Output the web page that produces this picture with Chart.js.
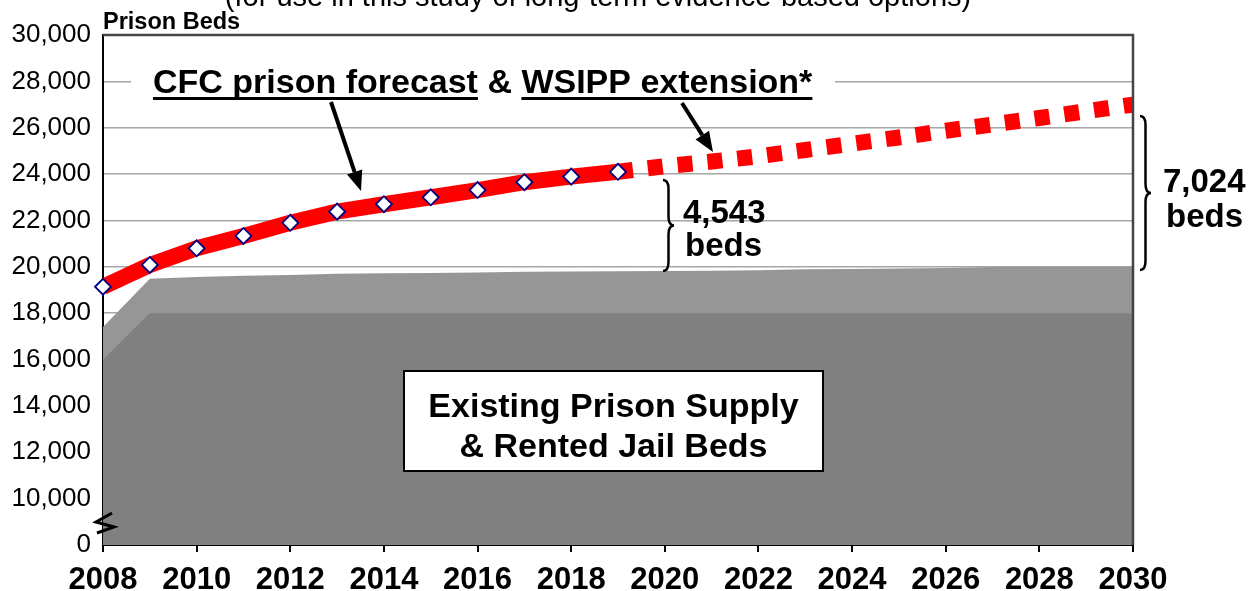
<!DOCTYPE html>
<html>
<head>
<meta charset="utf-8">
<script src="https://cdn.jsdelivr.net/npm/chart.js@4.4.0/dist/chart.umd.min.js"></script>
<style>
  html, body { margin: 0; padding: 0; background: #fff; }
  #wrap { width: 1259px; height: 591px; }
</style>
</head>
<body>
<div id="wrap"><canvas id="bedsChart" width="1259" height="591"></canvas></div>
<script>
// years on the x axis
const supplyYears = [2008, 2009, 2010, 2011, 2012, 2013, 2014, 2015, 2016, 2017, 2018, 2019,
  2020, 2021, 2022, 2023, 2024, 2025, 2026, 2027, 2028, 2029, 2030];
const forecastYears = [2008, 2009, 2010, 2011, 2012, 2013, 2014, 2015, 2016, 2017, 2018, 2019];
const extensionYears = [2019, 2020, 2021, 2022, 2023, 2024, 2025, 2026, 2027, 2028, 2029, 2030];

// CFC prison forecast (solid) and WSIPP extension (dotted)
const forecastBeds = [19140, 20080, 20800, 21330, 21900, 22380, 22700, 23000, 23310, 23650, 23890, 24100];
const extensionBeds = [24100, 24340, 24540, 24770, 25040, 25310, 25580, 25870, 26140, 26420, 26710, 27000];

// supply: prison beds (dark) and prison + rented jail beds (light)
const prisonSupply = [16000, 18000, 18000, 18000, 18000, 18000, 18000, 18000, 18000, 18000, 18000, 18000,
  18000, 18000, 18000, 18000, 18000, 18000, 18000, 18000, 18000, 18000, 18000];
const totalSupply = [17400, 19480, 19560, 19620, 19650, 19700, 19720, 19730, 19750, 19790, 19800, 19810,
  19820, 19830, 19850, 19890, 19910, 19930, 19950, 19990, 20000, 20000, 20000];

// broken axis: the bottom tick stands for 0
const yMin = 8000;
const yMax = 30000;
const yStep = 2000;
const xMin = 2008;
const xMax = 2030;
const xStep = 2;

const FONT = "'Liberation Sans', Arial, Helvetica, sans-serif";

function pts(xs, ys) {
  return xs.map((x, i) => ({ x: x, y: ys[i] }));
}

function drawArrow(ctx, x1, y1, x2, y2) {
  const ang = Math.atan2(y2 - y1, x2 - x1);
  const head = 20;
  const half = 8;
  const bx = x2 - head * Math.cos(ang);
  const by = y2 - head * Math.sin(ang);
  ctx.save();
  ctx.strokeStyle = '#000';
  ctx.fillStyle = '#000';
  ctx.lineWidth = 4;
  ctx.beginPath();
  ctx.moveTo(x1, y1);
  ctx.lineTo(bx, by);
  ctx.stroke();
  ctx.beginPath();
  ctx.moveTo(x2, y2);
  ctx.lineTo(bx + half * Math.sin(ang), by - half * Math.cos(ang));
  ctx.lineTo(bx - half * Math.sin(ang), by + half * Math.cos(ang));
  ctx.closePath();
  ctx.fill();
  ctx.restore();
}

function drawBrace(ctx, x, y1, y2, w) {
  const ym = (y1 + y2) / 2;
  const q = 9;
  const xm = x + w / 2;
  ctx.save();
  ctx.strokeStyle = '#000';
  ctx.lineWidth = 2.5;
  ctx.beginPath();
  ctx.moveTo(x, y1);
  ctx.quadraticCurveTo(xm, y1, xm, y1 + q);
  ctx.lineTo(xm, ym - q);
  ctx.quadraticCurveTo(xm, ym, x + w, ym);
  ctx.quadraticCurveTo(xm, ym, xm, ym + q);
  ctx.lineTo(xm, y2 - q);
  ctx.quadraticCurveTo(xm, y2, x, y2);
  ctx.stroke();
  ctx.restore();
}

const annotations = {
  id: 'annotations',
  afterDraw(chart) {
    const ctx = chart.ctx;
    const a = chart.chartArea;

    // frame top / right
    ctx.save();
    ctx.strokeStyle = '#444';
    ctx.lineWidth = 2.5;
    ctx.beginPath();
    ctx.moveTo(a.left, a.top);
    ctx.lineTo(a.right, a.top);
    ctx.lineTo(a.right, a.bottom);
    ctx.stroke();
    ctx.restore();

    // cut-off subtitle at very top
    ctx.save();
    ctx.fillStyle = '#000';
    ctx.font = '29px ' + FONT;
    ctx.textAlign = 'center';
    ctx.textBaseline = 'alphabetic';
    ctx.fillText('(for use in this study of long-term evidence-based options)', 598, 6);
    ctx.restore();

    // y axis title
    ctx.save();
    ctx.fillStyle = '#000';
    ctx.font = 'bold 23.5px ' + FONT;
    ctx.textAlign = 'left';
    ctx.fillText('Prison Beds', 103, 29);
    ctx.restore();

    // headline with white backing
    ctx.save();
    ctx.fillStyle = '#fff';
    ctx.fillRect(131, 60, 704, 44);
    ctx.fillStyle = '#000';
    ctx.font = 'bold 34px ' + FONT;
    ctx.textAlign = 'left';
    const p1 = 'CFC prison forecast';
    const p2 = ' & ';
    const p3 = 'WSIPP extension*';
    const tx = 153;
    const ty = 93;
    const w1 = ctx.measureText(p1).width;
    const w2 = ctx.measureText(p2).width;
    const w3 = ctx.measureText(p3).width;
    ctx.fillText(p1, tx, ty);
    ctx.fillRect(tx, ty + 4, w1, 3);
    ctx.fillText(p2, tx + w1, ty);
    ctx.fillText(p3, tx + w1 + w2, ty);
    ctx.fillRect(tx + w1 + w2, ty + 4, w3, 3);
    ctx.restore();

    drawArrow(ctx, 331, 102, 361, 191);
    drawArrow(ctx, 682, 103, 713, 152);

    // braces and bed gaps
    drawBrace(ctx, 663, 180, 271, 11);
    drawBrace(ctx, 1140, 116, 270, 11);
    ctx.save();
    ctx.fillStyle = '#000';
    ctx.font = 'bold 33px ' + FONT;
    ctx.textAlign = 'left';
    ctx.textBaseline = 'alphabetic';
    ctx.fillText('4,543', 683, 223);
    ctx.fillText('beds', 685, 256);
    ctx.fillText('7,024', 1163, 192);
    ctx.fillText('beds', 1166, 227);
    ctx.restore();

    // supply label box
    ctx.save();
    ctx.fillStyle = '#fff';
    ctx.fillRect(404, 371, 419, 100);
    ctx.strokeStyle = '#000';
    ctx.lineWidth = 2;
    ctx.strokeRect(404, 371, 419, 100);
    ctx.fillStyle = '#000';
    ctx.font = 'bold 34px ' + FONT;
    ctx.textAlign = 'center';
    ctx.textBaseline = 'alphabetic';
    ctx.fillText('Existing Prison Supply', 613.5, 417);
    ctx.fillText('& Rented Jail Beds', 613.5, 457);
    ctx.restore();

    // axis break mark
    ctx.save();
    ctx.strokeStyle = '#000';
    ctx.lineWidth = 3;
    ctx.beginPath();
    ctx.moveTo(112, 513);
    ctx.lineTo(96, 522);
    ctx.lineTo(114, 527);
    ctx.lineTo(97, 533);
    ctx.stroke();
    ctx.restore();
  }
};

new Chart(document.getElementById('bedsChart'), {
  type: 'line',
  data: {
    datasets: [
      {
        label: 'CFC prison forecast points',
        data: pts(forecastYears, forecastBeds),
        showLine: false,
        pointStyle: 'rectRot',
        pointRadius: 8,
        pointBackgroundColor: '#fff',
        pointBorderColor: '#000080',
        pointBorderWidth: 1.8,
        clip: false,
        order: 0,
      },
      {
        label: 'CFC prison forecast',
        data: pts(forecastYears, forecastBeds),
        borderColor: '#ff0000',
        borderWidth: 16,
        borderCapStyle: 'butt',
        borderJoinStyle: 'round',
        pointRadius: 0,
        tension: 0,
        clip: { left: 0, top: 10, right: 10, bottom: 10 },
        order: 1,
      },
      {
        label: 'WSIPP extension',
        data: pts(extensionYears, extensionBeds),
        borderColor: '#ff0000',
        borderWidth: 16,
        borderDash: [15, 15],
        borderCapStyle: 'butt',
        pointRadius: 0,
        tension: 0,
        order: 2,
      },
      {
        label: 'Prison supply',
        data: pts(supplyYears, prisonSupply),
        borderWidth: 0,
        borderColor: 'rgba(0,0,0,0)',
        backgroundColor: '#808080',
        fill: 'start',
        pointRadius: 0,
        tension: 0,
        order: 3,
      },
      {
        label: 'Rented jail beds',
        data: pts(supplyYears, totalSupply),
        borderWidth: 0,
        borderColor: 'rgba(0,0,0,0)',
        backgroundColor: '#969696',
        fill: 'start',
        pointRadius: 0,
        tension: 0,
        order: 4,
      },
    ],
  },
  options: {
    responsive: false,
    animation: false,
    layout: {
      padding: { top: 35, right: 126, left: 0, bottom: 0 },
    },
    scales: {
      x: {
        type: 'linear',
        min: xMin,
        max: xMax,
        afterFit: (scale) => { scale.height = 46; },
        ticks: {
          stepSize: xStep,
          color: '#000',
          padding: 10,
          maxRotation: 0,
          font: { family: FONT, size: 31, weight: 'bold' },
          callback: (v) => String(v),
        },
        grid: {
          drawOnChartArea: false,
          drawTicks: true,
          tickLength: 7,
          color: '#000',
          lineWidth: 2,
        },
        border: { display: true, color: '#000', width: 2 },
      },
      y: {
        min: yMin,
        max: yMax,
        afterFit: (scale) => { scale.width = 103; },
        ticks: {
          stepSize: yStep,
          color: '#000',
          padding: 12,
          font: { family: FONT, size: 26 },
          callback: (v) => (v === yMin ? '0' : v.toLocaleString('en-US')),
        },
        grid: {
          drawTicks: false,
          color: (c) => (c.tick && (c.tick.value === yMin || c.tick.value === yMax) ? 'rgba(0,0,0,0)' : '#a6a6a6'),
          lineWidth: 1.5,
        },
        border: { display: true, color: '#000', width: 2 },
      },
    },
    plugins: {
      legend: { display: false },
      tooltip: { enabled: false },
    },
  },
  plugins: [annotations],
});
</script>
</body>
</html>
